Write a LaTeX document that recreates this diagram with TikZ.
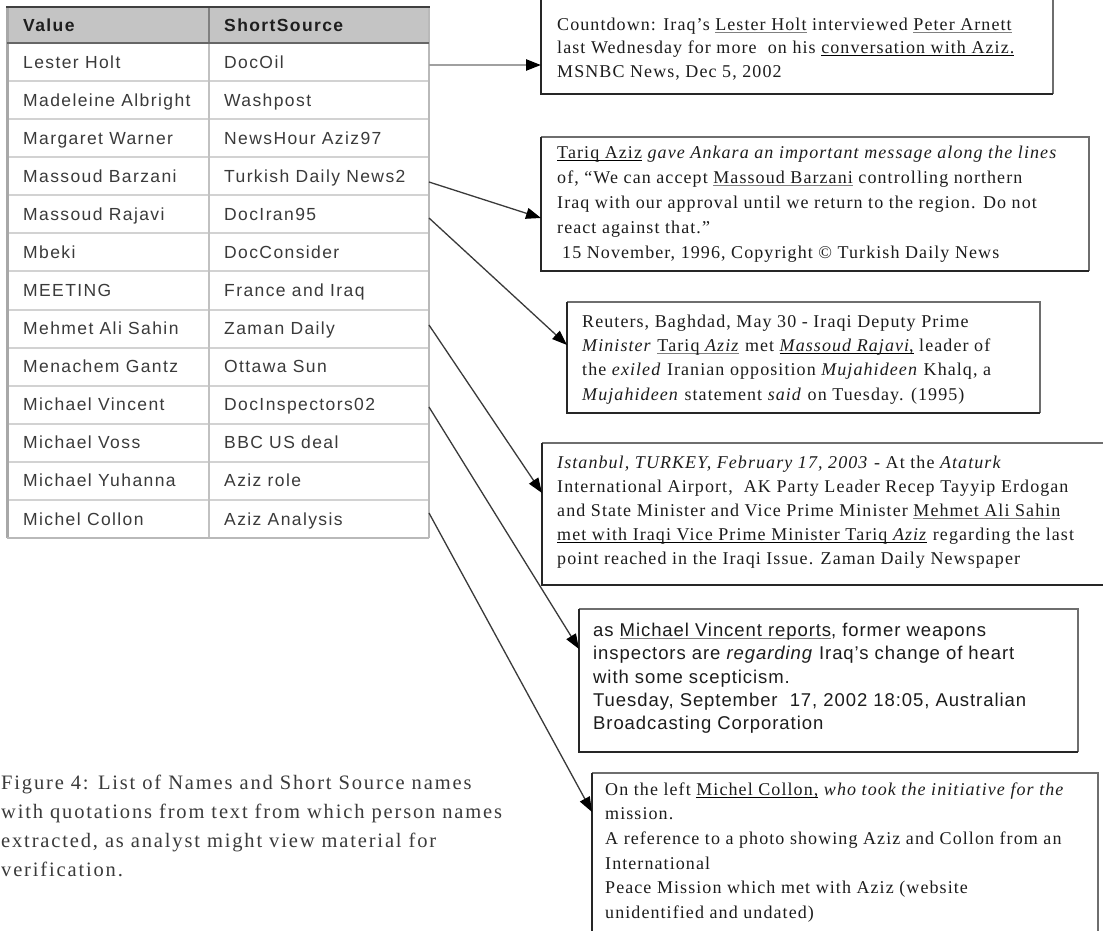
\documentclass[tikz,border=0pt]{standalone}
\usepackage{fontspec}
\usetikzlibrary{arrows.meta}
\newfontfamily\boxfont{Liberation Serif}[LetterSpace=6]
\newfontfamily\tabfont{Liberation Sans}[LetterSpace=8]
\newfontfamily\vinfont{Liberation Sans}[LetterSpace=5]
\newfontfamily\capfont{Liberation Serif}[LetterSpace=9]
\definecolor{hdr}{HTML}{C4C4C4}
\definecolor{hdrtxt}{HTML}{1E1E1E}
\definecolor{tabtxt}{HTML}{3A3A3A}
\definecolor{rowline}{HTML}{D2D2D2}
\definecolor{tabedge}{HTML}{A8A8A8}
\definecolor{qtxt}{HTML}{1C1C1C}
\definecolor{boxdark}{HTML}{262626}
\definecolor{boxlight}{HTML}{6E6E6E}
\definecolor{connc}{HTML}{3A3A3A}
\definecolor{connl}{HTML}{A0A0A0}
\definecolor{captxt}{HTML}{3A3A3A}
\newcommand\ulk[1]{\setbox0\hbox{#1}\rlap{\color{black}\rule[-2.5pt]{\wd0}{1.1pt}}\box0\relax}
\newcommand\ulg[1]{\setbox0\hbox{#1}\rlap{\color{gray}\rule[-2.5pt]{\wd0}{1.1pt}}\box0\relax}
\begin{document}
\begin{tikzpicture}[x=1pt,y=-1pt,
  cell/.style={anchor=base west, inner sep=0pt, font={\tabfont\fontsize{17.5}{20}\selectfont}, text=tabtxt},
  hcell/.style={anchor=base west, inner sep=0pt, font={\tabfont\bfseries\fontsize{17.5}{20}\selectfont}, text=hdrtxt},
  qtext/.style={anchor=north west, inner sep=0pt, align=left, text=qtxt},
  serif18/.style={font={\boxfont\fontsize{18}{#1}\selectfont}},
  qbox/.style={anchor=north west, inner sep=0pt, draw=none},
  bdark/.style={draw=boxdark, line width=2pt},
  blight/.style={draw=boxlight, line width=2pt},
  conn/.style={draw=connc, line width=1.3pt, -{Triangle[length=15pt,width=11pt,color=black]}},
  connlight/.style={draw=connl, line width=2.4pt, -{Triangle[length=15pt,width=11pt,color=black]}},
]
\clip (0,0) rectangle (1103,930);
\fill[white] (0,0) rectangle (1103,930);
% ---------- table ----------
\fill[white] (7,7) rectangle (429,538);
\fill[hdr] (7,7) rectangle (429,43);
\foreach \k in {1,...,12} {
  \draw[rowline, line width=2pt] (7,{43+38.08*\k}) -- (429,{43+38.08*\k});
}
\draw[draw=rowline!80!gray, line width=2pt] (209,43) -- (209,538);
\draw[draw=gray, line width=2pt] (209,7) -- (209,43);
\draw[draw=tabedge, line width=3pt] (7,7) -- (7,538);
\draw[draw=tabedge!80, line width=2.5pt] (429,7) -- (429,538);
\draw[draw=tabedge!80, line width=2.5pt] (7,538) -- (429,538);
\draw[draw=black!75, line width=2pt] (6,7) -- (430,7);
\draw[draw=black!60, line width=2pt] (7,43) -- (429,43);
\node[hcell] (hv) at (23,31) {Value};
\node[hcell] (hs) at (224,31) {ShortSource};
\foreach \i/\n/\s in {1/Lester Holt/DocOil, 2/Madeleine Albright/Washpost,
  3/Margaret Warner/NewsHour Aziz97, 4/Massoud Barzani/Turkish Daily News2,
  5/Massoud Rajavi/DocIran95, 6/Mbeki/DocConsider, 7/MEETING/France and Iraq,
  8/Mehmet Ali Sahin/Zaman Daily, 9/Menachem Gantz/Ottawa Sun,
  10/Michael Vincent/DocInspectors02, 11/Michael Voss/BBC US deal,
  12/Michael Yuhanna/Aziz role, 13/Michel Collon/Aziz Analysis} {
  \node[cell] (v\i) at (23,{43+38.08*(\i-0.5)+6}) {\n};
  \node[cell] (s\i) at (224,{43+38.08*(\i-0.5)+6}) {\s};
}
% ---------- quotation boxes ----------
\node[qbox, minimum width=512pt, minimum height=98pt] (b1) at (541,-4) {};
\node[qbox, minimum width=548pt, minimum height=134pt] (b2) at (541,137) {};
\node[qbox, minimum width=473pt, minimum height=111pt] (b3) at (567,302) {};
\node[qbox, minimum width=570pt, minimum height=142pt] (b4) at (542,443) {};
\node[qbox, minimum width=499pt, minimum height=143pt] (b5) at (579,609) {};
\node[qbox, minimum width=506pt, minimum height=170pt] (b6) at (592,773) {};
\foreach \b in {b1,b2,b3,b4,b5,b6} {
  \draw[blight] (\b.south east) -- (\b.north east) -- (\b.north west);
  \draw[bdark] (\b.north west) -- (\b.south west) -- (\b.south east);
}
\node[qtext, serif18=23.5] (t1) at (557,17) {\rule{0pt}{13pt}Countdown: Iraq’s \ulg{Lester Holt} interviewed \ulg{Peter Arnett}\\
last Wednesday for more\ \ on his \ulk{conversation with Aziz.}\\
MSNBC News, Dec 5, 2002};
\node[qtext, serif18=25] (t2) at (557,145) {\rule{0pt}{13pt}\ulk{Tariq Aziz} \textit{gave Ankara an important message along the lines}\\
of, “We can accept \ulg{Massoud Barzani} controlling northern\\
Iraq with our approval until we return to the region. Do not\\
react against that.”\\
\hspace*{5pt}15 November, 1996, Copyright © Turkish Daily News};
\node[qtext, serif18=24.3] (t3) at (582,314) {\rule{0pt}{13pt}Reuters, Baghdad, May 30 - Iraqi Deputy Prime\\
\textit{Minister} \ulg{Tariq \textit{Aziz}} met \ulk{\textit{Massoud Rajavi},} leader of\\
the \textit{exiled} Iranian opposition \textit{Mujahideen} Khalq, a\\
\textit{Mujahideen} statement \textit{said} on Tuesday. (1995)};
\node[qtext, serif18=24] (t4) at (557,455) {\rule{0pt}{13pt}\textit{Istanbul, TURKEY, February 17, 2003} - At the \textit{Ataturk}\\
International Airport,\ \ AK Party Leader Recep Tayyip Erdogan\\
and State Minister and Vice Prime Minister \ulg{Mehmet Ali Sahin}\\
\ulk{met with Iraqi Vice Prime Minister Tariq \textit{Aziz}} regarding the last\\
point reached in the Iraqi Issue. Zaman Daily Newspaper};
\node[qtext, font={\vinfont\fontsize{18.5}{23.4}\selectfont}] (t5) at (593,622) {\rule{0pt}{14pt}as \ulg{Michael Vincent reports}, former weapons\\
inspectors are \textit{regarding} Iraq’s change of heart\\
with some scepticism.\\
Tuesday, September\ \ 17, 2002 18:05, Australian\\
Broadcasting Corporation};
\node[qtext, serif18=24.6] (t6) at (605,782) {\rule{0pt}{13pt}On the left \ulk{Michel Collon,} \textit{who took the initiative for the}\\
mission.\\
A reference to a photo showing Aziz and Collon from an\\
International\\
Peace Mission which met with Aziz (website\\
unidentified and undated)};
% ---------- caption ----------
\node[qtext, text=captxt, font={\capfont\fontsize{20.5}{29}\selectfont}] (cap) at (1,774) {\rule{0pt}{15pt}Figure 4: List of Names and Short Source names\\
with quotations from text from which person names\\
extracted, as analyst might view material for\\
verification.};
% ---------- connectors ----------
\coordinate (p1) at (429,65);  \coordinate (q1) at (541,65);
\coordinate (p2) at (429,182); \coordinate (q2) at (541,218);
\coordinate (p3) at (429,218); \coordinate (q3) at (567,345);
\coordinate (p4) at (429,325); \coordinate (q4) at (542,493);
\coordinate (p5) at (429,407); \coordinate (q5) at (579,649);
\coordinate (p6) at (429,513); \coordinate (q6) at (592,812);
\draw[connlight] (p1) -- (q1);
\draw[conn] (p2) -- (q2);
\draw[conn] (p3) -- (q3);
\draw[conn] (p4) -- (q4);
\draw[conn] (p5) -- (q5);
\draw[conn] (p6) -- (q6);
\end{tikzpicture}
\end{document}
